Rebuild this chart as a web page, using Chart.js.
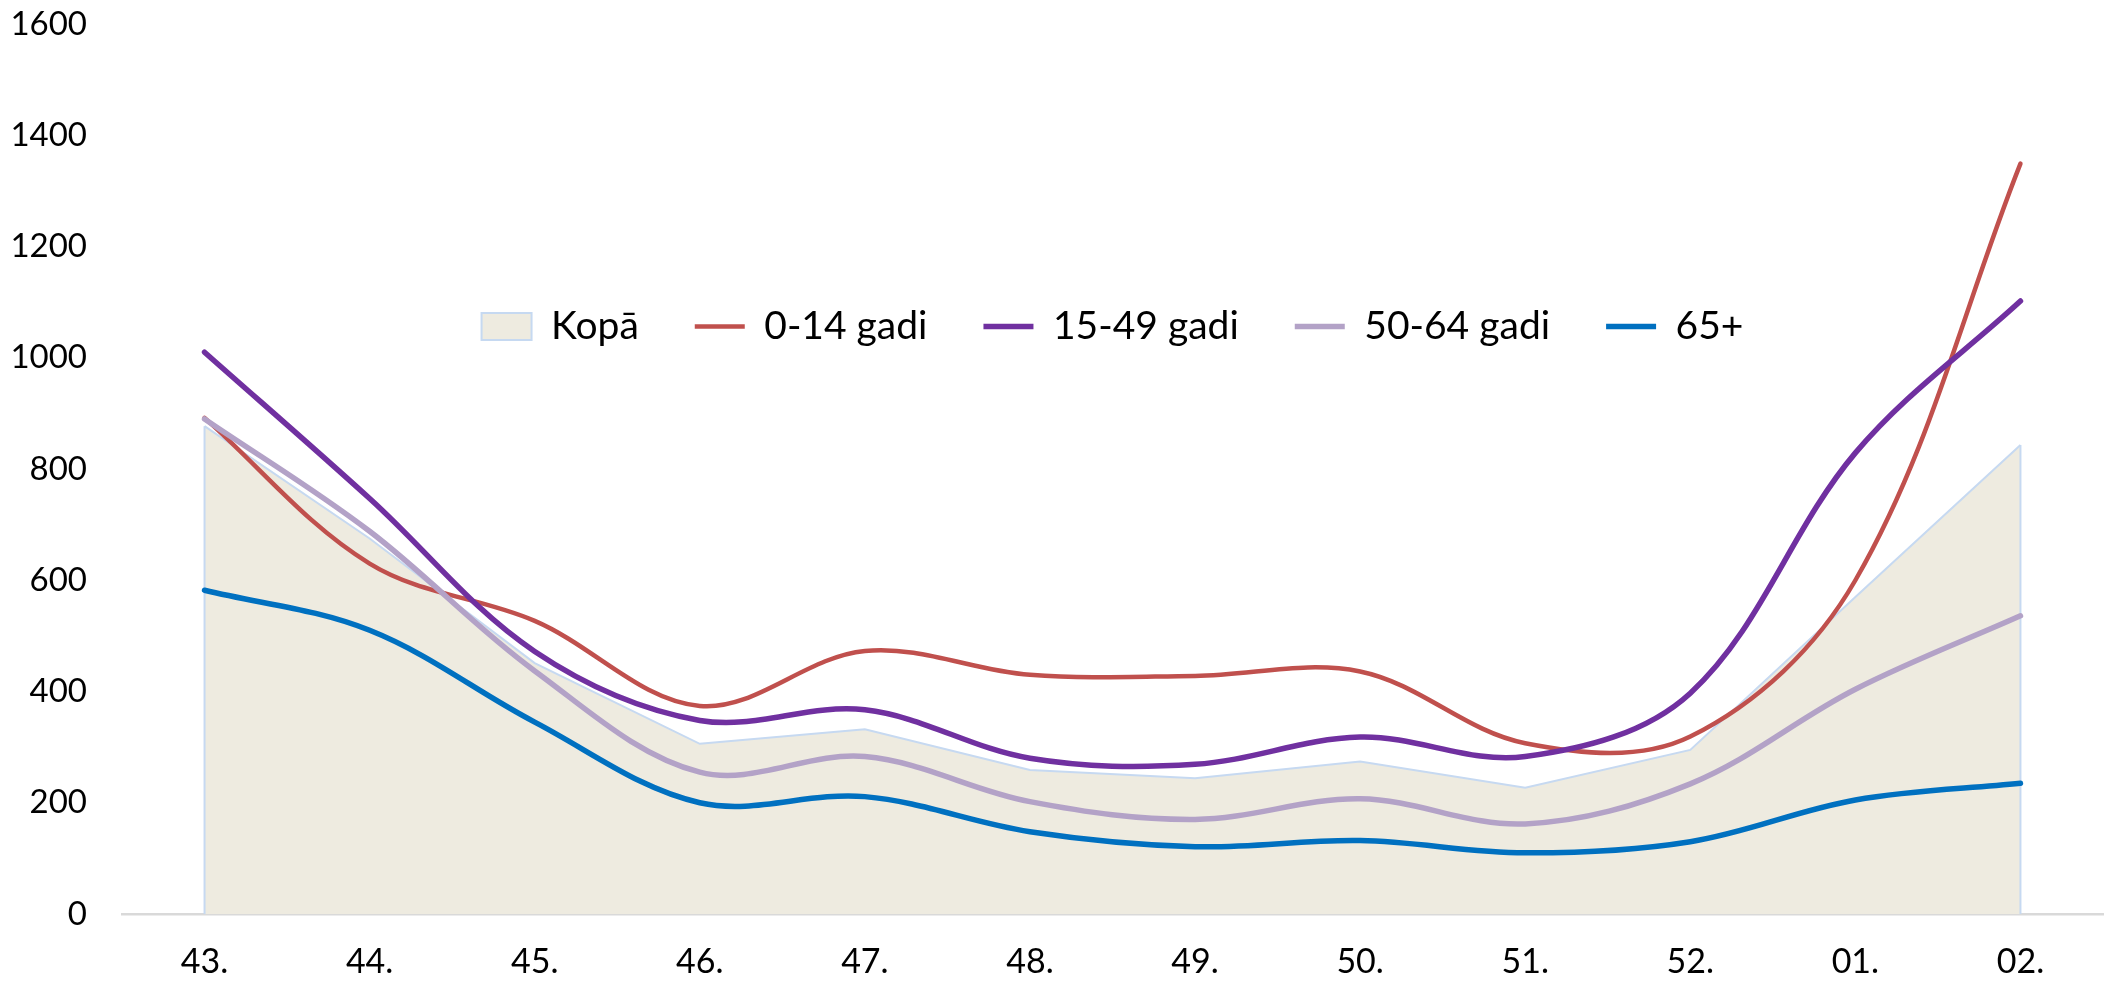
<!DOCTYPE html>
<html lang="lv">
<head>
<meta charset="utf-8">
<title>Saslimstība pa vecuma grupām</title>
<script src="https://cdn.jsdelivr.net/npm/chart.js@4.4.1/dist/chart.umd.min.js"></script>
<style>
  html, body { margin: 0; padding: 0; background: #fff; }
  #wrap { width: 2108px; height: 982px; position: relative; }
</style>
</head>
<body>
<div id="wrap"><canvas id="chart"></canvas></div>
<script>
/* ── Data ─────────────────────────────────────────────── */
const weeks     = ['43.', '44.', '45.', '46.', '47.', '48.', '49.', '50.', '51.', '52.', '01.', '02.'];
const total     = [877, 675, 451, 306, 332, 259, 244, 274, 227, 295, 570, 843];
const age0_14   = [892, 630, 527, 374, 473, 430, 428, 436, 307, 319, 600, 1349];
const age15_49  = [1010, 747, 472, 348, 367, 280, 269, 318, 283, 397, 829, 1102];
const age50_64  = [890, 688, 437, 255, 283, 202, 170, 207, 162, 234, 404, 536];
const age65     = [582, 510, 345, 200, 211, 148, 121, 132, 110, 130, 205, 235];
const yTicks    = [0, 200, 400, 600, 800, 1000, 1200, 1400, 1600];

const FONT = 'Lato, "Open Sans", sans-serif';
const AREA_FILL = '#EEEBE0';
const AREA_LINE = '#C6D9F1';

// smooth line helper
const line = (label, data, color, width, order) => ({
  type: 'line', label, data, order,
  borderColor: color, backgroundColor: color,
  borderWidth: width, borderCapStyle: 'round',
  pointRadius: 0, pointStyle: 'line',
  tension: 0.35, fill: false
});

/* ── Plugins ──────────────────────────────────────────── */
// Excel draws the area outline down both ends as well
const areaEdges = {
  id: 'areaEdges',
  afterDatasetDraw(chart, args) {
    if (args.index !== 0) return;
    const pts = args.meta.data;
    const base = chart.scales.y.getPixelForValue(0);
    const ctx = chart.ctx;
    ctx.save();
    ctx.strokeStyle = AREA_LINE;
    ctx.lineWidth = 2;
    ctx.beginPath();
    [pts[0], pts[pts.length - 1]].forEach(p => {
      ctx.moveTo(p.x, p.y);
      ctx.lineTo(p.x, base);
    });
    ctx.stroke();
    ctx.restore();
  }
};

// legend floats inside the plot: take no layout room, then drop it down
const legendDrop = {
  id: 'legendDrop',
  beforeUpdate(chart) {
    const lg = chart.legend;
    if (!lg || lg._dropped) return;
    const fit = lg.fit.bind(lg);
    lg.fit = function () { fit(); this._realHeight = this.height; this.height = 0; };
    lg._dropped = true;
  },
  beforeDraw(chart) {
    const lg = chart.legend;
    lg.top = 327 - lg.options.labels.padding - 20;
    lg.bottom = lg.top + lg._realHeight;
  }
};

/* ── Chart ────────────────────────────────────────────── */
new Chart(document.getElementById('chart'), {
  data: {
    labels: weeks,
    datasets: [
      {
        type: 'line', label: 'Kopā', data: total, order: 5,
        borderColor: AREA_LINE, backgroundColor: AREA_FILL,
        borderWidth: 2, pointRadius: 0, pointStyle: 'rect',
        tension: 0, fill: 'origin'
      },
      line('0-14 gadi',  age0_14,  '#C0504D', 4.5, 4),
      line('15-49 gadi', age15_49, '#7030A0', 5.5, 3),
      line('50-64 gadi', age50_64, '#B3A2C7', 5.5, 2),
      line('65+',        age65,    '#0070C0', 5.5, 1)
    ]
  },
  options: {
    responsive: true,
    maintainAspectRatio: false,
    animation: false,
    layout: { padding: { top: 0, right: 5, left: 0, bottom: 0 } },
    plugins: {
      tooltip: { enabled: false },
      legend: {
        position: 'top',
        fullSize: false,
        align: 'center',
        labels: {
          usePointStyle: true,
          pointStyleWidth: 50,
          boxHeight: 27,
          padding: 56,
          color: '#000',
          font: { family: FONT, size: 39 },
          sort: (a, b) => a.datasetIndex - b.datasetIndex
        }
      }
    },
    scales: {
      x: {
        offset: true,
        grid: { display: false, drawTicks: false },
        border: { display: true, color: '#D9D9D9', width: 2.5 },
        ticks: { color: '#000', padding: 28, font: { family: FONT, size: 34 }, maxRotation: 0 },
        afterFit: s => { s.height = 68; }
      },
      y: {
        min: 0, max: 1600,
        afterBuildTicks: s => { s.ticks = yTicks.map(v => ({ value: v })); },
        grid: { display: false, drawTicks: false },
        border: { display: false },
        ticks: {
          color: '#000', padding: 35, font: { family: FONT, size: 33 },
          callback: v => String(v)
        },
        afterFit: s => { s.width = 122; s.paddingTop = 24; }
      }
    }
  },
  plugins: [areaEdges, legendDrop]
});
</script>
</body>
</html>
